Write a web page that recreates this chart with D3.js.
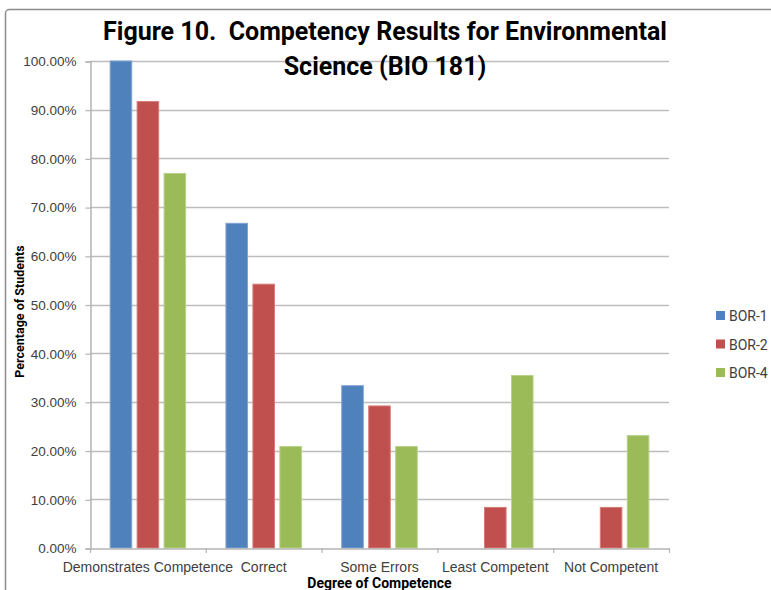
<!DOCTYPE html>
<html>
<head>
<meta charset="utf-8">
<script src="https://cdn.jsdelivr.net/npm/d3@7"></script>
<style>
  html, body { margin: 0; padding: 0; background: #fff; }
  svg { display: block; font-family: Roboto, "Liberation Sans", sans-serif; }
</style>
</head>
<body>
<svg id="chart" width="771" height="590"></svg>
<script>
// Competency categories on the x axis
const categories = ["Demonstrates Competence", "Correct", "Some Errors", "Least Competent", "Not Competent"];
// Series (course sections) and their share of students per category
const seriesNames = ["BOR-1", "BOR-2", "BOR-4"];
const bor1 = [1.0000, 0.6667, 0.3333, 0, 0];
const bor2 = [0.9167, 0.5417, 0.2917, 0.0833, 0.0833];
const bor4 = [0.7692, 0.2083, 0.2083, 0.3542, 0.2308];
const yTicks = [0, 0.1, 0.2, 0.3, 0.4, 0.5, 0.6, 0.7, 0.8, 0.9, 1.0];
const colors = ["#4F81BD", "#C0504D", "#9BBB59"];
const strokes = ["#7FA3D1", "#D67C79", "#B7D08A"];

const seriesValues = [bor1, bor2, bor4];

const svg = d3.select("#chart");

// outer chart frame
svg.append("rect")
  .attr("x", 5.5).attr("y", 9.5)
  .attr("width", 900).attr("height", 700)
  .attr("rx", 4)
  .attr("fill", "none")
  .attr("stroke", "#8c8c8c")
  .attr("stroke-width", 1.5);

const plot = { left: 90, right: 669, top: 61, bottom: 548 };

const x = d3.scaleBand()
  .domain(categories)
  .range([plot.left, plot.right])
  .padding(0);

const groupWidth = x.bandwidth() * 0.652;
const xInner = d3.scaleBand()
  .domain(seriesNames)
  .range([-groupWidth / 2, groupWidth / 2])
  .paddingInner(0.2)
  .paddingOuter(0);

const y = d3.scaleLinear()
  .domain([0, 1])
  .range([plot.bottom, plot.top]);

// horizontal gridlines
svg.append("g")
  .selectAll("line")
  .data(yTicks.filter(t => t > 0))
  .join("line")
  .attr("x1", plot.left).attr("x2", plot.right)
  .attr("y1", d => Math.round(y(d)) + 0.5)
  .attr("y2", d => Math.round(y(d)) + 0.5)
  .attr("stroke", "#bdbdbd")
  .attr("stroke-width", 1.5);

// y axis
const yAxis = d3.axisLeft(y)
  .tickValues(yTicks)
  .tickFormat(d => (d * 100).toFixed(2) + "%")
  .tickSize(5)
  .tickPadding(9);

const gy = svg.append("g")
  .attr("transform", `translate(${plot.left + 0.5},0.5)`)
  .call(yAxis);
gy.select(".domain").attr("stroke", "#b4b4b4").attr("stroke-width", 1.5);
gy.selectAll(".tick line").attr("stroke", "#b4b4b4").attr("stroke-width", 1.2);
gy.selectAll(".tick text")
  .attr("fill", "#404040")
  .style("font-size", "13.5px");

// bars
const groups = svg.append("g")
  .selectAll("g")
  .data(seriesNames.map((name, i) => ({ name, i, values: seriesValues[i] })))
  .join("g")
  .attr("fill", d => colors[d.i])
  .attr("stroke", d => strokes[d.i]);

groups.selectAll("rect")
  .data(d => d.values.map((v, j) => ({ v, cat: categories[j], name: d.name })))
  .join("rect")
  .filter(d => d.v > 0)
  .attr("x", d => x(d.cat) + x.bandwidth() / 2 + xInner(d.name))
  .attr("width", xInner.bandwidth())
  .attr("y", d => y(d.v))
  .attr("height", d => y(0) - y(d.v))
  .attr("stroke-width", 1);

// x axis
const xAxis = d3.axisBottom(x).tickSize(0).tickPadding(14);
const gx = svg.append("g")
  .attr("transform", `translate(0,${plot.bottom + 0.5})`)
  .call(xAxis);
gx.select(".domain").attr("stroke", "#b4b4b4").attr("stroke-width", 1.5);
gx.selectAll(".tick text")
  .attr("fill", "#404040")
  .style("font-size", "14px");

// category boundary ticks
svg.append("g")
  .selectAll("line")
  .data(categories.concat(["end"]))
  .join("line")
  .attr("x1", (d, i) => plot.left + i * x.step() + 0.5)
  .attr("x2", (d, i) => plot.left + i * x.step() + 0.5)
  .attr("y1", plot.bottom)
  .attr("y2", plot.bottom + 5)
  .attr("stroke", "#b4b4b4")
  .attr("stroke-width", 1.2);

// axis titles
svg.append("text")
  .attr("x", (plot.left + plot.right) / 2)
  .attr("y", 588)
  .attr("text-anchor", "middle")
  .attr("font-weight", "bold")
  .style("font-size", "14px")
  .attr("fill", "#000")
  .text("Degree of Competence");

svg.append("text")
  .attr("transform", `translate(24,${(plot.top + plot.bottom) / 2 + 7}) rotate(-90)`)
  .attr("text-anchor", "middle")
  .attr("font-weight", "bold")
  .style("font-size", "12.5px")
  .attr("fill", "#000")
  .text("Percentage of Students");

// chart title (two lines)
const title = svg.append("text")
  .attr("text-anchor", "middle")
  .attr("font-weight", "bold")
  .style("font-size", "25px")
  .attr("fill", "#000");
title.append("tspan").attr("x", 385).attr("y", 40)
  .text("Figure 10.  Competency Results for Environmental")
  .style("white-space", "pre");
title.append("tspan").attr("x", 385).attr("y", 75)
  .text("Science (BIO 181)");

// legend
const legend = svg.append("g")
  .selectAll("g")
  .data(seriesNames)
  .join("g")
  .attr("transform", (d, i) => `translate(716,${311 + i * 28.5})`);
legend.append("rect")
  .attr("width", 9).attr("height", 9)
  .attr("fill", (d, i) => colors[i]);
legend.append("text")
  .attr("x", 13).attr("y", 10)
  .attr("fill", "#404040")
  .style("font-size", "14px")
  .text(d => d);
</script>
</body>
</html>
